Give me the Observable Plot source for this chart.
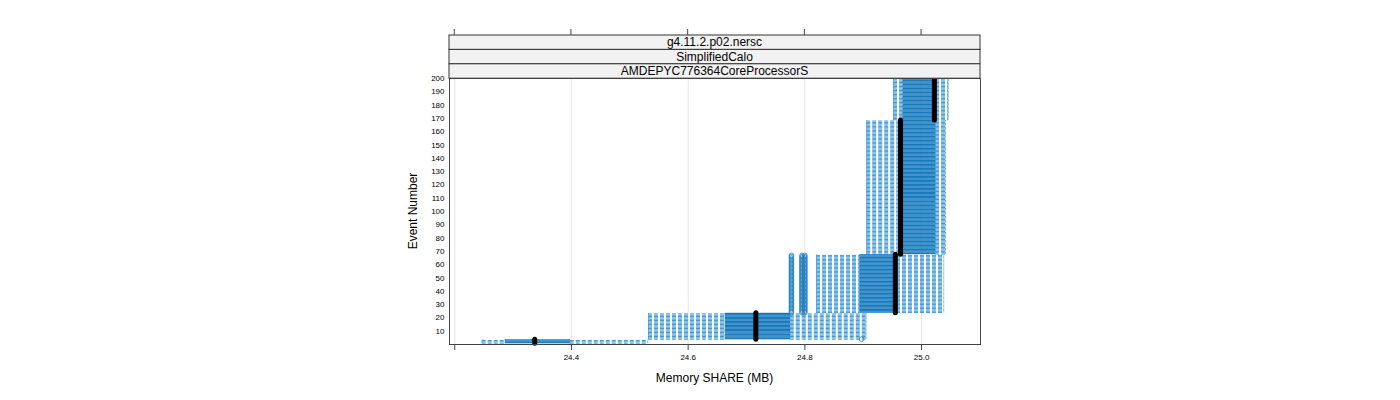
<!DOCTYPE html>
<html><head><meta charset="utf-8">
<script src="https://cdn.jsdelivr.net/npm/d3@7"></script>
<script src="https://cdn.jsdelivr.net/npm/@observablehq/plot@0.6"></script>
<style>body{margin:0;background:#fff} svg{font-family:"Liberation Sans",Arial,sans-serif}</style>
</head><body><div id="chart"></div>
<script>
// Per-group box statistics (events with identical boxes)
const groupStart = [1, 4, 24, 68, 169];
const groupEnd   = [3, 23, 67, 168, 200];
const whiskerLo  = [24.247, 24.532, 24.820, 24.906, 24.952];
const lowerHinge = [24.287, 24.664, 24.895, 24.964, 24.969];
const medianVal  = [24.337, 24.716, 24.955, 24.964, 25.022];
const upperHinge = [24.398, 24.775, 24.957, 25.024, 25.024];
const whiskerHi  = [24.530, 24.905, 25.038, 25.041, 25.046];
// outliers: group index and values
const outlierGroup  = [2, 2, 2];
const outlierValues = [24.777, 24.795, 24.800];
const singleOutlierEvent = [4];
const singleOutlierValue = [24.897];
const xTicks = [24.2, 24.4, 24.6, 24.8, 25.0];
const yTicks = [10,20,30,40,50,60,70,80,90,100,110,120,130,140,150,160,170,180,190,200];
const stripLabels = ["g4.11.2.p02.nersc", "SimplifiedCalo", "AMDEPYC776364CoreProcessorS"];

const events = [];
groupStart.forEach((s, i) => {
  for (let e = s; e <= groupEnd[i]; e++) {
    events.push({event: e, lo: whiskerLo[i], q1: lowerHinge[i], med: medianVal[i], q3: upperHinge[i], hi: whiskerHi[i]});
  }
});
const groups = groupStart.map((s, i) => ({s, e: groupEnd[i], med: medianVal[i]}));
const outliers = [];
outlierGroup.forEach((g, k) => {
  for (let e = groupStart[g]; e <= groupEnd[g]; e++) outliers.push({event: e, v: outlierValues[k]});
});
singleOutlierEvent.forEach((e, k) => outliers.push({event: e, v: singleOutlierValue[k]}));

const boxFill = "#3f95d0", boxStroke = "#1276ba", whisk = "#3d98d4";
const plot = Plot.plot({
  width: 1400, height: 400,
  marginLeft: 449, marginRight: 420, marginTop: 78, marginBottom: 56,
  style: {fontFamily: "Liberation Sans, Arial, sans-serif", background: "#fff"},
  x: {domain: [24.191, 25.101], axis: null},
  y: {domain: [0, 200], axis: null},
  marks: [
    Plot.gridX(xTicks, {stroke: "#e6e6e6", strokeOpacity: 1}),
    Plot.ruleY(events, {y: "event", x1: "lo", x2: "q1", stroke: whisk, strokeWidth: 1, strokeDasharray: "4,2"}),
    Plot.ruleY(events, {y: "event", x1: "q3", x2: "hi", stroke: whisk, strokeWidth: 1, strokeDasharray: "4,2"}),
    Plot.ruleX(events, {x: "lo", y1: d => d.event - 0.25, y2: d => d.event + 0.25, stroke: whisk, strokeWidth: 1}),
    Plot.ruleX(events, {x: "hi", y1: d => d.event - 0.25, y2: d => d.event + 0.25, stroke: whisk, strokeWidth: 1}),
    Plot.rect(events, {x1: "q1", x2: "q3", y1: d => d.event - 0.25, y2: d => d.event + 0.25, fill: boxFill, stroke: boxStroke, strokeWidth: 0.6}),
    Plot.dot(outliers, {x: "v", y: "event", r: 2.3, stroke: "#1f7fc0", fill: "none", strokeWidth: 0.8}),
    Plot.ruleX(groups, {x: "med", y1: d => d.s - 0.5, y2: d => d.e + 0.5, stroke: "#000", strokeWidth: 5, strokeLinecap: "round"}),
    Plot.axisX(xTicks, {anchor: "bottom", tickSize: 6, tickPadding: 4, fontSize: 8, stroke: "#444", fill: "#000",
      tickFormat: d => d === 24.2 ? "" : d.toFixed(1), label: null}),
    Plot.axisY(yTicks, {anchor: "left", tickSize: 0, tickPadding: 5, fontSize: 8, fill: "#000", label: null}),
    Plot.frame({stroke: "#444"})
  ]
});
const svg = d3.select(plot);
const xs = plot.scale("x");
const left = 449, right = 980;
const stripTop = 35, stripH = 14.4;
stripLabels.forEach((t, i) => {
  const y0 = stripTop + i * stripH;
  svg.append("rect").attr("x", left).attr("y", y0).attr("width", right - left).attr("height", stripH)
    .attr("fill", "#f2f2f2").attr("stroke", "#333").attr("stroke-width", 1);
  svg.append("text").attr("x", (left + right) / 2).attr("y", y0 + stripH / 2 + 4.2)
    .attr("text-anchor", "middle").attr("font-size", 12).attr("fill", "#000").text(t);
});
xTicks.forEach(v => {
  const px = xs.apply(v);
  svg.append("line").attr("x1", px).attr("x2", px).attr("y1", stripTop - 6).attr("y2", stripTop)
    .attr("stroke", "#444");
});
svg.append("text").attr("x", (left + right) / 2).attr("y", 382).attr("text-anchor", "middle")
  .attr("font-size", 12).attr("fill", "#000").text("Memory SHARE (MB)");
svg.append("text").attr("transform", "translate(417,211) rotate(-90)").attr("text-anchor", "middle")
  .attr("font-size", 12).attr("fill", "#000").text("Event Number");
document.getElementById("chart").appendChild(plot);
</script></body></html>
